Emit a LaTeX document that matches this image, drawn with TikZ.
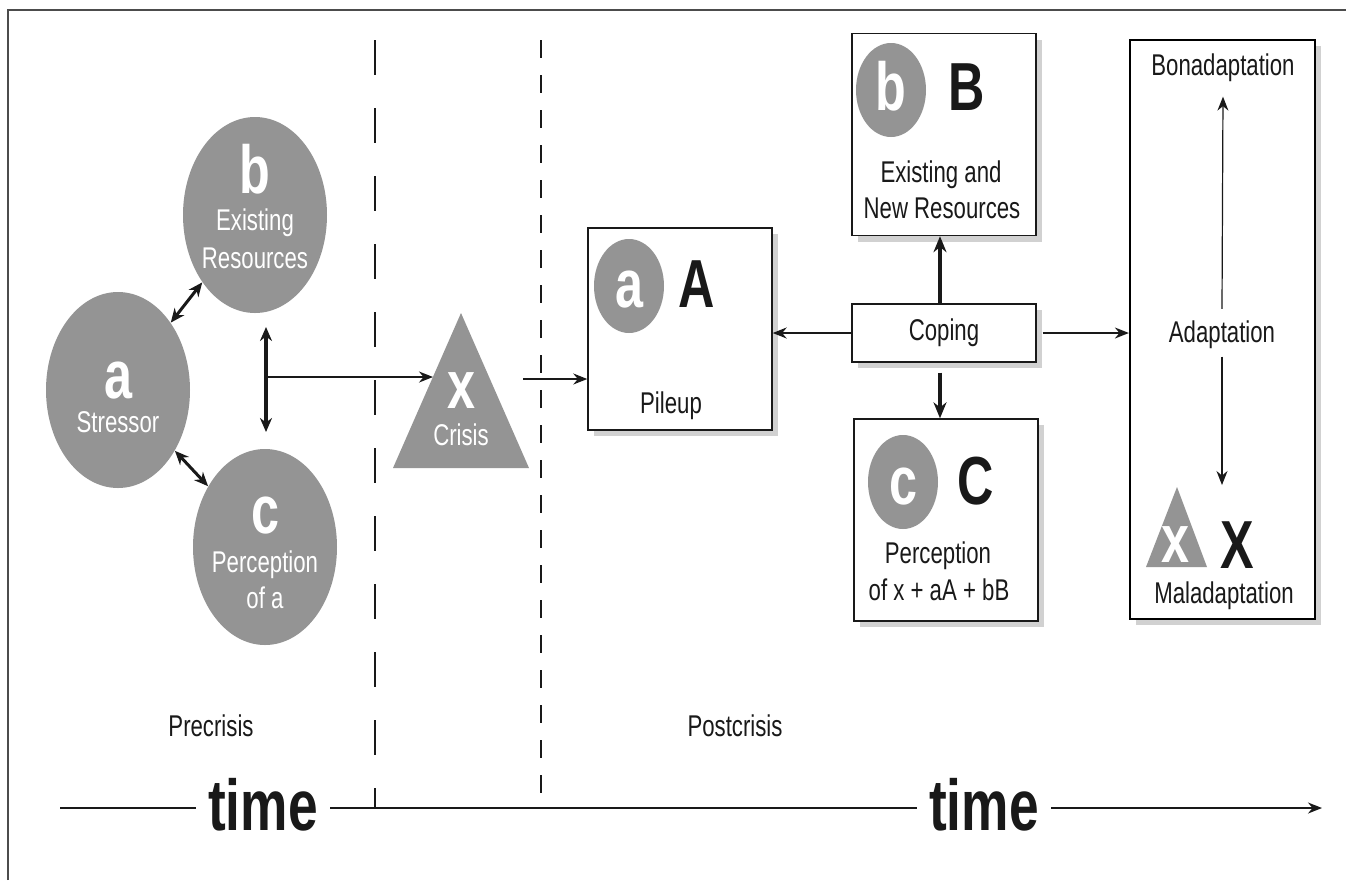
\documentclass[tikz,border=0pt]{standalone}
\usepackage{fontspec}
\setmainfont{Liberation Sans}[FakeStretch=0.74]
\usetikzlibrary{arrows.meta,shapes.geometric,shadows}
\definecolor{fmgray}{gray}{0.58}
\definecolor{fmshade}{gray}{0.82}
\definecolor{fmink}{gray}{0.1}
\tikzset{
  fmblob/.style={ellipse, fill=fmgray, minimum width=72pt, minimum height=98pt, inner sep=0pt},
  fmdot/.style={ellipse, fill=fmgray, minimum width=35pt, minimum height=47pt, inner sep=0pt},
  fmbox/.style={draw=fmink, line width=0.7pt, fill=white, minimum width=92pt, minimum height=101pt, inner sep=0pt,
    drop shadow={shadow xshift=3pt, shadow yshift=-3pt, opacity=1, fill=fmshade}},
  fmbig/.style={font=\fontsize{34}{40}\selectfont\bfseries, inner sep=0pt, anchor=base},
  fmtext/.style={font=\fontsize{15}{18}\selectfont, text=fmink},
  fmlbl/.style={fmtext, inner sep=0pt, anchor=base},
  fmtime/.style={font=\fontsize{36}{40}\selectfont\bfseries, text=fmink, anchor=base, inner xsep=6pt, inner ysep=0pt},
  fmthin/.style={line width=0.8pt, draw=fmink, -{Stealth[length=7pt,width=5.5pt]}},
  fmthick/.style={line width=1.6pt, draw=fmink, -{Stealth[length=8pt,width=6.5pt]}},
  fmboth/.style={line width=1.5pt, draw=fmink, {Stealth[length=7pt,width=6pt]}-{Stealth[length=7pt,width=6pt]}},
  fmaxis/.style={line width=0.8pt, draw=fmink},
  fmdash/.style={line width=0.55pt, draw=fmink, dash pattern=on 17.5pt off 16.5pt},
}
\begin{document}
\begin{tikzpicture}[x=0.5pt, y=-0.5pt]
\useasboundingbox (0,0) rectangle (1346,880);
\fill[white] (0,0) rectangle (1346,880);
\draw[line width=0.8pt, draw=black!70] (8,880) -- (8,10) -- (1346,10);

% phase lines
\draw[fmdash] (375,40) -- (375,808);
\draw[fmdash, dash pattern=on 9pt off 8.5pt] (541,40) -- (541,808);

% precrisis
\node[fmblob] (sb) at (255,215) {};
\node[fmbig, text=white] at (255,193) {b};
\node[fmlbl, text=white] at (255,230) {Existing};
\node[fmlbl, text=white] at (255,268) {Resources};
\node[fmblob] (sa) at (118,390) {};
\node[fmbig, text=white] at (118,398) {a};
\node[fmlbl, text=white] at (118,432) {Stressor};
\node[fmblob] (sc) at (265,547) {};
\node[fmbig, text=white] at (265,533) {c};
\node[fmlbl, text=white] at (265,572) {Perception};
\node[fmlbl, text=white] at (265,608) {of a};

\draw[fmboth] (sa) -- (sb);
\draw[fmboth] (sa) -- (sc);
\coordinate (vtop) at (266,327);
\coordinate (vbot) at (266,432);
\coordinate (vmid) at (266,377);
\draw[fmboth, line width=1.7pt] (vtop) -- (vbot);

% crisis
\fill[fmgray] (461,313) -- (529,468) -- (393,468) -- cycle;
\coordinate (xin) at (433,377);
\coordinate (xout) at (523,379);
\node[fmbig, text=white] (xl) at (461,408) {x};
\node[fmlbl, text=white] (xt) at (461,445) {Crisis};
\draw[fmthin] (vmid) -- (xin);

% postcrisis
\node[fmbox] (Abox) at (680,329) {};
\node[fmdot] (Adot) at (629,286) {};
\node[fmbig, text=white] at (629,307) {a};
\node[fmbig, text=fmink] at (697,307) {A};
\node[fmlbl] at (671,413) {Pileup};

\node[fmbox] (Bbox) at (944,134.5) {};
\node[fmdot] (Bdot) at (891,90) {};
\node[fmbig, text=white] at (891,110) {b};
\node[fmbig, text=fmink] at (967,110) {B};
\node[fmlbl] at (941,182) {Existing and};
\node[fmlbl] at (942,218) {New Resources};

\node[fmbox, fmtext, minimum height=29pt] (coping) at (944,333) {Coping};

\node[fmbox] (Cbox) at (946,520) {};
\node[fmdot] (Cdot) at (903,482) {};
\node[fmbig, text=white] at (903,504) {c};
\node[fmbig, text=fmink] at (976,504) {C};
\node[fmlbl] at (938,563) {Perception};
\node[fmlbl] at (939,600) {of x + aA + bB};

\node[fmbox, line width=1.1pt, draw=black, minimum width=92.5pt, minimum height=289.5pt] (adapt) at (1222.5,329.5) {};
\node[fmlbl] (bona) at (1223,75) {Bonadaptation};
\node[fmlbl] (adtxt) at (1222,342) {Adaptation};
\coordinate (maltip) at (1222,485);
\fill[fmgray] (1177,487) -- (1207,567) -- (1146,567) -- cycle;
\node[fmbig, text=white] at (1175,562) {x};
\node[fmbig, text=fmink] at (1237,568) {X};
\node[fmlbl] (mala) at (1224,603) {Maladaptation};
\draw[fmthin, line width=0.6pt] ([yshift=5.5pt]adtxt.north) -- ([yshift=-7.5pt]bona.south);
\draw[fmthin, line width=0.6pt] ([yshift=-4pt]adtxt.south) -- (maltip);

\draw[fmthin] (xout) -- (xout -| Abox.west);
\draw[fmthin] (coping.west) -- (coping.west -| Abox.east);
\draw[fmthin] ([xshift=3pt]coping.east) -- (coping.east -| adapt.west);
\draw[fmthick] ([xshift=-2pt]coping.north) -- ([xshift=-2pt]Bbox.south);
\draw[fmthick] ([xshift=-2pt,yshift=-5pt]coping.south) -- ([xshift=-3pt]Cbox.north);

% time
\node[fmlbl] (pre) at (211,736) {Precrisis};
\node[fmlbl] (post) at (735,736) {Postcrisis};
\coordinate (tstart) at (60,808);
\coordinate (tend) at (1322,808);
\node[fmtime] (time1) at (263,830) {time};
\node[fmtime] (time2) at (984,830) {time};
\draw[fmaxis] (tstart) -- (tstart -| time1.west);
\draw[fmaxis] (time1.east |- tstart) -- (time2.west |- tstart);
\draw[fmaxis, -{Stealth[length=7pt,width=5.5pt]}] (time2.east |- tstart) -- (tend);
\end{tikzpicture}
\end{document}
